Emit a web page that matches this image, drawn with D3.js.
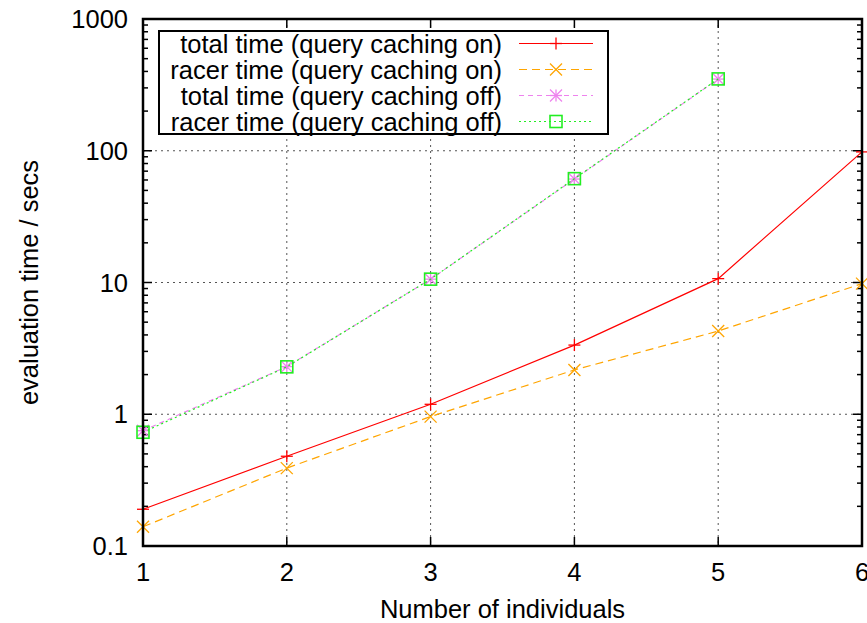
<!DOCTYPE html>
<html>
<head>
<meta charset="utf-8">
<script src="https://cdn.jsdelivr.net/npm/d3@7"></script>
<style>
  body { margin: 0; background: #fff; }
  text { font-family: "Liberation Sans", Arial, sans-serif; font-size: 25.5px; }
</style>
</head>
<body>
<div id="canvas"></div>
<script>
// datos
const individuals = [1, 2, 3, 4, 5, 6];
const totalOn = [0.19, 0.48, 1.19, 3.35, 10.7, 98];
const racerOn = [0.14, 0.39, 0.96, 2.17, 4.28, 9.8];
const totalOff = [0.75, 2.3, 10.6, 61, 350];
const racerOff = [0.73, 2.29, 10.6, 61.4, 351];
const yTicks = [0.1, 1, 10, 100, 1000];
const seriesNames = [
  "total time (query caching on)",
  "racer time (query caching on)",
  "total time (query caching off)",
  "racer time (query caching off)"
];

const width = 867;
const height = 623;
const margin = { top: 19, left: 143, bottom: 77, right: 5 };
const iwidth = width - margin.left - margin.right;
const iheight = height - margin.top - margin.bottom;

const svg = d3.select("#canvas")
  .append("svg")
  .attr("width", width)
  .attr("height", height);

const g = svg.append("g")
  .attr("transform", `translate(${margin.left},${margin.top})`);

const x = d3.scaleLinear().domain([1, 6]).range([0, iwidth]);
const y = d3.scaleLog().domain([0.1, 1000]).range([iheight, 0]);

// rejilla punteada
g.append("g").selectAll("line")
  .data(individuals.slice(1, -1))
  .join("line")
  .attr("x1", d => x(d)).attr("x2", d => x(d))
  .attr("y1", 0).attr("y2", iheight)
  .attr("stroke", "#555").attr("stroke-dasharray", "2,4");

g.append("g").selectAll("line")
  .data(yTicks.slice(1, -1))
  .join("line")
  .attr("y1", d => y(d)).attr("y2", d => y(d))
  .attr("x1", 0).attr("x2", iwidth)
  .attr("stroke", "#555").attr("stroke-dasharray", "2,4");

// ticks menores del eje log
const minor = [];
yTicks.slice(0, -1).forEach(t => {
  for (let k = 2; k <= 9; k++) minor.push(t * k);
});

const ticks = g.append("g").attr("stroke", "#000").attr("stroke-width", 1.5);
[0, iwidth].forEach((x0, i) => {
  const dir = i === 0 ? 1 : -1;
  ticks.append("g").selectAll("line").data(yTicks).join("line")
    .attr("x1", x0).attr("x2", x0 + dir * 9)
    .attr("y1", d => y(d)).attr("y2", d => y(d));
  ticks.append("g").selectAll("line").data(minor).join("line")
    .attr("x1", x0).attr("x2", x0 + dir * 5)
    .attr("y1", d => y(d)).attr("y2", d => y(d));
});
[0, iheight].forEach((y0, i) => {
  const dir = i === 0 ? 1 : -1;
  ticks.append("g").selectAll("line").data(individuals).join("line")
    .attr("y1", y0).attr("y2", y0 + dir * 9)
    .attr("x1", d => x(d)).attr("x2", d => x(d));
});

// etiquetas de ejes
g.append("g").selectAll("text").data(yTicks).join("text")
  .attr("x", -15).attr("y", d => y(d) + 9)
  .attr("text-anchor", "end")
  .text(d => d3.format("~g")(d));

g.append("g").selectAll("text").data(individuals).join("text")
  .attr("x", d => x(d)).attr("y", iheight + 35)
  .attr("text-anchor", "middle")
  .text(d => d);

svg.append("text")
  .attr("x", margin.left + iwidth / 2).attr("y", 618)
  .attr("text-anchor", "middle")
  .text("Number of individuals");

svg.append("text")
  .attr("transform", `translate(38,${margin.top + iheight / 2}) rotate(-90)`)
  .attr("text-anchor", "middle")
  .text("evaluation time / secs");

// series
const series = [
  { vals: totalOn, color: "#ff0000", dash: null, mark: "plus" },
  { vals: racerOn, color: "#ffa500", dash: "8,5", mark: "cross" },
  { vals: totalOff, color: "#ee82ee", dash: "5,4", mark: "star" },
  { vals: racerOff, color: "#22ee22", dash: "2,3", mark: "box" }
];

const line = d3.line()
  .x((d, i) => x(individuals[i]))
  .y(d => y(d));

const drawMark = (sel, type, color, cx, cy) => {
  const s = 6;
  const m = sel.append("g").attr("stroke", color).attr("stroke-width", 1.3).attr("fill", "none");
  if (type === "plus" || type === "star") {
    m.append("line").attr("x1", cx - s).attr("x2", cx + s).attr("y1", cy).attr("y2", cy);
    m.append("line").attr("x1", cx).attr("x2", cx).attr("y1", cy - s).attr("y2", cy + s);
  }
  if (type === "cross" || type === "star") {
    m.append("line").attr("x1", cx - s).attr("x2", cx + s).attr("y1", cy - s).attr("y2", cy + s);
    m.append("line").attr("x1", cx - s).attr("x2", cx + s).attr("y1", cy + s).attr("y2", cy - s);
  }
  if (type === "box") {
    m.append("rect").attr("x", cx - s).attr("y", cy - s).attr("width", 2 * s).attr("height", 2 * s)
      .attr("stroke-width", 1.6);
  }
};

series.forEach(s => {
  g.append("path")
    .datum(s.vals)
    .attr("fill", "none")
    .attr("stroke", s.color)
    .attr("stroke-width", 1.2)
    .attr("stroke-dasharray", s.dash)
    .attr("d", line);
  s.vals.forEach((v, i) => drawMark(g, s.mark, s.color, x(individuals[i]), y(v)));
});

// borde
g.append("rect")
  .attr("width", iwidth).attr("height", iheight)
  .attr("fill", "none").attr("stroke", "#000").attr("stroke-width", 2.5);

// leyenda
const leg = svg.append("g");
leg.append("rect")
  .attr("x", 159).attr("y", 31).attr("width", 449).attr("height", 103)
  .attr("fill", "#fff").attr("stroke", "#000").attr("stroke-width", 2);

series.forEach((s, i) => {
  const ly = 43.5 + i * 26;
  leg.append("text")
    .attr("x", 502).attr("y", ly + 9)
    .attr("text-anchor", "end")
    .text(seriesNames[i]);
  leg.append("line")
    .attr("x1", 519).attr("x2", 593).attr("y1", ly).attr("y2", ly)
    .attr("stroke", s.color).attr("stroke-width", 1.2)
    .attr("stroke-dasharray", s.dash);
  drawMark(leg, s.mark, s.color, 556, ly);
});
</script>
</body>
</html>
